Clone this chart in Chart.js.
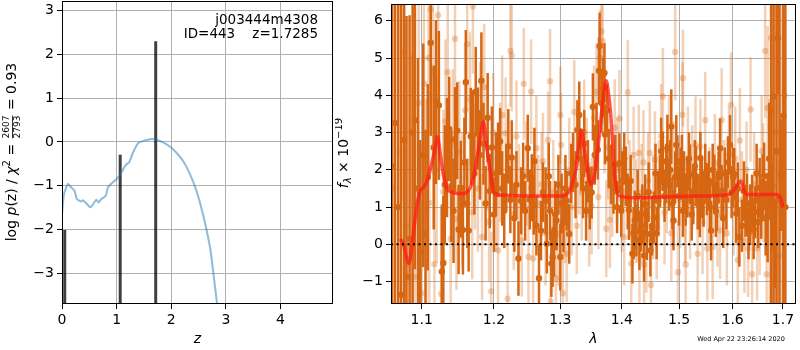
<!DOCTYPE html>
<html>
<head>
<meta charset="utf-8">
<script src="https://cdn.jsdelivr.net/npm/chart.js@4.4.0/dist/chart.umd.min.js"></script>
<style>
  html, body { margin: 0; padding: 0; background: #fff; }
  #wrap { position: relative; width: 800px; height: 350px; overflow: hidden; }
  #left { position: absolute; left: 0; top: 0; width: 345px; height: 350px; }
  #right { position: absolute; left: 335px; top: 0; width: 465px; height: 350px; }
</style>
</head>
<body>
<div id="wrap">
  <div id="left"><canvas id="pz" width="345" height="350"></canvas></div>
  <div id="right"><canvas id="spec" width="465" height="350"></canvas></div>
</div>
<script>
// ---- left panel: log p(z)
const pzZ   = [0, 0.037, 0.11, 0.17, 0.23, 0.27, 0.35, 0.38, 0.43, 0.52, 0.58, 0.63, 0.67, 0.72, 0.80, 0.84, 0.93, 1.0, 1.09, 1.17, 1.23, 1.30, 1.39, 1.48, 1.64, 1.73, 1.85, 1.98, 2.09, 2.22, 2.34, 2.46, 2.58, 2.71, 2.78, 2.84, 2.90];
const pzLog = [-1.65, -1.19, -0.96, -1.04, -1.11, -1.30, -1.36, -1.33, -1.38, -1.49, -1.40, -1.32, -1.38, -1.30, -1.23, -1.04, -0.92, -0.85, -0.69, -0.52, -0.46, -0.24, -0.03, 0.02, 0.07, 0.05, -0.01, -0.11, -0.24, -0.44, -0.73, -1.11, -1.65, -2.41, -3.09, -3.72, -4.3];
const barZ   = [0.05, 1.065, 1.715];
const barLog = [-2.01, -0.29, 2.30];
const zTicks   = [0, 1, 2, 3, 4];
const pzTicks  = [-3, -2, -1, 0, 1, 2, 3];

// ---- right panel: spectrum
const darkWave = [1.061,1.065,1.069,1.073,1.077,1.080,1.084,1.088,1.091,1.095,1.098,
  1.102,1.105,1.108,1.112,1.116,1.119,
  1.123,1.127,1.129,1.131,1.134,1.137,1.140,1.143,1.145,1.148,
  1.150,1.153,1.156,1.158,1.160,1.162,1.164,1.167,1.170,1.172,
  1.174,1.177,1.180,1.182,1.185,1.188,1.191,1.194,1.197,1.200,
  1.203,1.206,1.209,1.212,1.215,1.218,1.221,1.224,1.226,1.230,
  1.233,1.236,1.240,1.243,1.246,1.250,1.253,1.256,1.259,1.260,
  1.263,1.267,1.270,1.273,1.277,1.279,1.282,1.284,1.286,1.288,
  1.290,1.292,1.294,1.297,1.300,1.302,1.305,1.308,1.310,1.314,
  1.317,1.320,1.324,1.327,1.330,1.333,1.336,1.338,1.341,1.344,
  1.347,1.350,1.352,1.355,1.358,1.360,1.362,1.363,1.366,1.369,
  1.371,1.372,1.375,1.378,1.382,1.386,1.389,1.392,1.396,1.399,
  1.401,1.404,1.407,1.410,1.412,1.415,1.418,1.420,1.422,1.425,
  1.427,1.430,1.433,1.435,1.438,1.440,1.443,1.446,1.449,1.452,
  1.455,1.458,1.460,1.463,1.466,1.468,1.471,1.474,1.477,1.479,
  1.482,1.484,1.486,1.488,1.490,1.493,1.495,1.497,1.500,1.503,
  1.505,1.507,1.509,1.512,1.515,1.518,1.520,1.523,1.526,1.529,
  1.531,1.534,1.538,1.539,1.542,1.545,1.548,1.551,1.555,1.557,
  1.559,1.562,1.565,1.568,1.570,1.573,1.576,1.579,1.582,1.585,
  1.588,1.591,1.595,1.598,1.601,1.603,1.607,1.610,1.613,1.618,
  1.622,1.625,1.628,1.631,1.634,1.638,1.641,1.644,1.647,1.650,
  1.653,1.656,1.659,1.662,1.665,1.669,1.672,1.676,1.679,1.681,
  1.684,1.687,1.690,1.693,1.696,1.701,1.705];
const darkFlux = [2.1,3.26,1.0,-1.35,2.8,-0.87,0.15,3.0,3.33,1.5,-0.2,
  2.39,0.28,1.8,5.41,2.6,3.82,
  3.73,-0.73,-0.5,1.6,2.33,3.1,1.56,0.9,2.82,3.05,
  0.4,1.48,0.39,2.2,4.35,1.1,0.37,2.9,2.94,1.9,
  4.10,3.11,2.4,4.39,2.7,1.1,3.4,1.43,2.6,0.8,
  1.9,2.27,2.76,1.5,0.9,1.8,2.63,1.2,2.33,0.7,
  1.6,-0.38,1.17,1.83,0.9,2.58,1.2,1.52,1.06,2.23,
  0.5,-0.91,0.37,1.4,1.17,0.02,1.83,0.9,-0.51,-0.34,
  -0.07,0.8,0.64,1.6,-0.34,1.1,0.59,1.5,1.17,0.28,
  1.9,2.2,1.6,3.07,3.47,2.3,1.5,2.7,0.90,2.0,
  1.2,1.39,3.69,2.4,2.9,2.54,4.66,5.32,3.8,4.2,
  4.6,2.95,3.6,2.3,1.88,1.52,2.14,1.0,2.18,0.9,
  1.70,2.3,1.83,1.1,0.92,1.7,-0.25,0.3,0.64,0.37,
  1.3,0.11,0.5,0.81,-0.3,1.08,0.28,1.4,-0.16,0.5,
  0.72,1.9,0.3,1.17,1.70,2.5,2.23,1.3,1.9,2.58,
  1.6,2.0,3.16,1.1,0.64,1.8,2.67,2.23,1.3,1.9,
  2.14,0.9,1.70,1.2,1.52,2.3,1.88,0.8,1.34,2.1,
  1.83,1.1,0.99,2.32,1.5,1.17,1.9,1.48,1.70,1.0,
  0.37,2.0,1.61,0.9,1.17,1.8,2.58,1.43,0.7,1.9,
  1.2,2.2,2.67,1.4,1.8,1.88,0.83,1.5,0.2,0.50,
  1.43,0.9,1.10,0.3,0.81,1.17,0.4,0.86,1.9,0.6,
  1.52,0.95,1.52,1.83,0.7,0.72,2.3,3.59,1.0,3.97,
  0.03,2.5,5.53,1.2,1.86,3.45,1.0];
const darkErr = [9,10,9,8,8,7,6,5,4,3.5,3,
  3,2.8,2.5,2.5,2.2,2.2,
  2,1.8,1.8,1.6,1.6,1.4,1.5,1.4,1.4,1.3,
  1.2,1.3,1.2,1.2,1.4,1.2,1.1,1.3,1.2,1.1,
  1.2,1.1,1.2,1.3,1.1,1.0,1.2,1.0,1.1,1.0,
  1.1,1.0,0.9,1.0,1.0,0.9,1.0,0.9,1.0,0.9,
  0.9,1.0,0.9,0.9,0.8,0.9,0.8,0.9,0.8,0.9,
  0.8,0.9,0.8,0.8,0.9,0.8,0.9,0.8,0.9,0.8,
  0.8,0.9,0.8,0.8,0.9,0.8,0.8,0.9,0.8,0.8,
  0.8,0.8,0.9,0.8,0.9,0.8,0.8,0.9,0.8,0.8,
  0.8,0.7,0.9,0.8,0.9,0.8,0.9,0.9,0.8,0.8,
  0.8,0.8,0.7,0.8,0.8,0.7,0.8,0.7,0.8,0.7,
  0.8,0.7,0.8,0.7,0.8,0.7,0.8,0.7,0.8,0.7,
  0.7,0.8,0.7,0.8,0.7,0.8,0.7,0.8,0.7,0.8,
  0.7,0.8,0.7,0.8,0.7,0.9,0.8,0.7,0.8,0.9,
  0.7,0.8,1.0,0.7,0.8,0.7,0.8,0.7,0.8,0.7,
  0.8,0.7,0.8,0.7,0.8,0.7,0.8,0.7,0.8,0.7,
  0.8,0.7,0.8,0.7,0.8,0.7,0.8,0.7,0.8,0.7,
  0.8,0.7,0.8,0.7,0.8,0.7,0.8,0.7,0.8,0.7,
  0.8,0.7,0.8,0.7,0.8,0.7,0.8,0.7,0.8,0.7,
  0.8,0.7,0.8,0.7,0.8,0.7,0.8,0.7,0.8,0.7,
  0.8,0.8,0.9,0.9,1.0,1.2,1.5,7,1.2,7,
  1.2,7,1.5,7,1.5,8,8];

const lightWave = [1.063,1.071,1.076,1.079,1.086,1.091,1.096,1.100,
  1.103,1.106,1.109,1.110,1.112,1.115,1.117,1.120,1.122,1.126,
  1.129,1.132,1.135,1.139,1.142,1.145,1.147,1.151,1.155,1.159,
  1.162,1.166,1.169,1.170,1.173,1.177,1.180,1.183,1.186,1.190,
  1.193,1.196,1.199,1.203,1.206,1.209,1.212,1.217,1.220,1.224,
  1.226,1.229,1.233,1.237,1.241,1.244,1.248,1.251,1.255,1.258,
  1.263,1.266,1.271,1.273,1.277,1.281,1.284,1.285,1.289,1.293,
  1.297,1.300,1.301,1.304,1.307,1.310,1.314,1.318,1.322,1.326,
  1.330,1.334,1.338,1.342,1.346,1.350,1.354,1.358,1.361,1.364,
  1.366,1.368,1.371,1.374,1.377,1.380,1.384,1.388,1.392,1.396,
  1.400,1.404,1.410,1.413,1.416,1.420,1.424,1.429,1.430,1.434,
  1.437,1.438,1.442,1.445,1.448,1.450,1.454,1.457,1.460,1.464,
  1.468,1.471,1.474,1.478,1.482,1.486,1.490,1.493,1.498,1.502,
  1.506,1.507,1.511,1.512,1.516,1.520,1.524,1.530,1.534,1.539,
  1.543,1.548,1.552,1.556,1.562,1.566,1.571,1.576,1.579,1.584,
  1.589,1.593,1.597,1.602,1.605,1.610,1.614,1.618,1.623,1.627,
  1.630,1.635,1.638,1.642,1.648,1.653,1.657,1.660,1.664,1.667,
  1.669,1.673,1.676,1.680,1.686,1.692,1.698,1.703];
const lightFlux = [1.5,2.5,5.15,0.5,-0.9,-0.87,3.8,-1.31,
  4.32,0.9,5.0,1.11,6.3,4.66,-0.53,2.0,6.15,-1.33,
  1.41,3.3,4.62,0.15,2.7,5.52,0.68,2.49,1.2,3.6,
  5.37,3.89,0.86,6.38,2.1,1.5,3.2,0.2,4.22,2.6,
  0.6,-1.26,3.0,1.4,-0.16,2.2,3.47,2.98,-1.46,5.19,
  5.07,0.81,2.9,1.2,0.1,4.31,1.9,-0.34,4.10,-0.38,
  2.58,1.1,1.61,2.23,0.3,2.8,4.38,-1.53,1.4,-0.9,
  0.28,3.47,2.67,-1.31,0.9,-0.25,2.0,1.0,3.55,0.5,
  2.2,1.4,3.02,2.1,0.8,1.03,3.4,4.1,1.27,5.0,
  5.72,5.46,3.3,0.42,2.6,0.66,1.6,3.13,2.0,3.38,
  1.2,0.2,4.08,1.5,-0.51,2.4,0.9,2.45,-0.42,1.4,
  2.20,-0.54,0.1,1.7,2.45,-1.09,1.0,2.27,0.46,1.5,
  2.9,3.97,0.86,1.6,2.6,0.3,1.9,5.16,-0.75,1.2,
  3.48,4.46,0.9,-0.54,2.3,0.90,1.8,2.67,-0.25,2.61,
  0.6,3.33,-0.11,1.3,-0.07,2.2,0.8,0.37,3.33,1.5,
  0.3,2.4,3.75,1.0,2.3,-0.42,2.79,1.2,0.1,2.0,
  -0.11,3.62,-0.80,1.6,-0.11,0.68,2.5,1.65,5.19,-0.80,
  3.66,0.9,5.54,1.56,3.0,-0.3,2.2,4.0];
const lightErr = [10,9,4,3,6,2,3,2.5,
  3,3,3,3,3,2.8,2.5,2.5,2.5,2.3,
  2.2,2.2,2.0,2.0,2.0,2.0,1.9,1.9,1.8,1.8,
  1.8,1.8,1.8,1.8,1.7,1.7,1.7,1.7,1.7,1.7,
  1.6,1.6,1.6,1.6,1.6,1.6,1.6,1.5,1.5,1.5,
  1.5,1.5,1.5,1.5,1.5,1.5,1.4,1.4,1.4,1.4,
  1.4,1.3,1.4,1.3,1.4,1.3,1.4,1.3,1.4,1.3,
  1.4,1.3,1.4,1.3,1.4,1.3,1.4,1.3,1.4,1.3,
  1.4,1.3,1.4,1.3,1.4,1.3,1.4,1.3,1.4,1.3,
  1.4,1.3,1.4,1.3,1.4,1.3,1.4,1.3,1.4,1.3,
  1.4,1.3,1.4,1.3,1.4,1.3,1.4,1.3,1.4,1.3,
  1.4,1.3,1.4,1.3,1.4,1.3,1.4,1.3,1.4,1.3,
  1.4,1.3,1.4,1.3,1.4,1.3,1.4,1.3,1.4,1.3,
  1.4,1.3,1.4,1.3,1.4,1.3,1.4,1.3,1.4,1.3,
  1.4,1.3,1.4,1.3,1.4,1.3,1.4,1.3,1.4,1.3,
  1.4,1.3,1.4,1.3,1.4,1.3,1.4,1.3,1.4,1.3,
  1.3,1.4,1.4,1.4,1.4,1.5,1.5,1.6,1.8,2,
  2.2,3,4,5,6,7,8,9];

const modelWave = [1.072,1.076,1.083,1.088,1.091,1.095,1.098,1.103,1.107,1.113,
  1.117,1.121,1.125,1.129,1.134,1.140,1.156,1.166,1.171,1.175,
  1.180,1.185,1.189,1.194,1.200,1.213,1.255,1.304,1.314,1.320,
  1.325,1.330,1.333,1.337,1.341,1.349,1.354,1.359,1.363,1.367,
  1.371,1.374,1.378,1.381,1.385,1.388,1.396,1.422,1.482,1.543,
  1.594,1.606,1.616,1.622,1.627,1.685,1.695,1.700];
const modelFlux = [0.15,0.0,-0.51,0.1,0.64,1.2,1.43,1.55,1.70,2.14,
  2.5,2.89,2.4,1.88,1.5,1.41,1.36,1.52,1.8,2.23,
  2.8,3.29,2.7,2.05,1.39,1.32,1.30,1.30,1.43,1.7,
  2.05,2.7,3.07,2.7,2.23,1.61,1.8,2.41,3.0,3.64,
  4.2,4.39,4.0,3.55,2.6,1.88,1.30,1.25,1.28,1.30,
  1.34,1.52,1.70,1.45,1.34,1.34,1.25,0.99];
const lamTicks  = [1.1, 1.2, 1.3, 1.4, 1.5, 1.6, 1.7];
const fluxTicks = [-1, 0, 1, 2, 3, 4, 5, 6];

const LAM_MIN = 1.06, LAM_MAX = 1.727;
const ORANGE = 'rgb(214,102,18)';
const ORANGE_LIGHT = 'rgba(214,102,18,0.3)';

Chart.defaults.font.family = "'DejaVu Sans', sans-serif";
Chart.defaults.font.size = 14;
Chart.defaults.color = '#000';

const minus = v => String(v).replace('-', '\u2212');
const pts = (xs, ys) => xs.map((x, i) => ({x: x, y: ys[i]}));

function axis(type, min, max, ticks, fmt, fit) {
  return {
    type: type, min: min, max: max, bounds: 'data',
    afterBuildTicks: s => { s.ticks = ticks.map(v => ({value: v})); },
    afterFit: s => {
      fit(s);
      // no extra room for half-labels at the ends
      s.paddingTop = 0; s.paddingBottom = 0; s.paddingLeft = 0; s.paddingRight = 0;
    },
    ticks: { callback: fmt, color: '#000', autoSkip: false, maxRotation: 0, padding: 3 },
    grid: { color: '#b0b0b0', lineWidth: 1, tickColor: '#000', tickLength: 5, tickWidth: 1 },
    border: { display: false }
  };
}

// black box round the plot area
const frame = {
  id: 'frame',
  afterDraw(chart) {
    const a = chart.chartArea, ctx = chart.ctx;
    ctx.save();
    ctx.strokeStyle = '#000';
    ctx.lineWidth = 1;
    ctx.strokeRect(Math.round(a.left) + 0.5, Math.round(a.top) + 0.5,
      Math.round(a.right - a.left) - 1, Math.round(a.bottom - a.top) - 1);
    ctx.restore();
  }
};

// rotated label made of pieces (normal / italic / sub / sup / fraction)
function rotLabel(ctx, pieces, cx, cy) {
  let total = 0;
  pieces.forEach(p => {
    ctx.font = p.font;
    p.w = p.frac ? Math.max(ctx.measureText(p.frac[0]).width, ctx.measureText(p.frac[1]).width) + 2
                 : ctx.measureText(p.t).width;
    total += p.w;
  });
  ctx.save();
  ctx.translate(cx, cy);
  ctx.rotate(-Math.PI / 2);
  ctx.fillStyle = '#000';
  ctx.textBaseline = 'middle';
  let pos = -total / 2;
  pieces.forEach(p => {
    ctx.font = p.font;
    if (p.frac) {
      ctx.textAlign = 'center';
      ctx.fillText(p.frac[0], pos + p.w / 2, -5);
      ctx.fillText(p.frac[1], pos + p.w / 2, 5.5);
      ctx.fillRect(pos + 1, 0, p.w - 2, 0.8);
      ctx.textAlign = 'left';
    } else {
      ctx.textAlign = 'left';
      ctx.fillText(p.t, pos, p.dy || 0);
    }
    pos += p.w;
  });
  ctx.restore();
}

const F = "'DejaVu Sans', sans-serif";

const pzText = {
  id: 'pzText',
  afterDraw(chart) {
    const ctx = chart.ctx;
    rotLabel(ctx, [
      {t: 'log ', font: '14px ' + F},
      {t: 'p', font: 'italic 14px ' + F},
      {t: '(z) / ', font: '14px ' + F},
      {t: '\u03C7', font: 'italic 14px ' + F},
      {t: '2', font: '10px ' + F, dy: -5},
      {t: ' = ', font: '14px ' + F},
      {frac: ['2607', '2793'], font: '9px ' + F},
      {t: ' = 0.93', font: '14px ' + F}
    ], 12, 152);
    ctx.save();
    ctx.fillStyle = '#000';
    ctx.font = '13.5px ' + F;
    ctx.textAlign = 'right';
    ctx.textBaseline = 'middle';
    ctx.fillText('j003444m4308', 318, 20);
    ctx.fillText('ID=443    z=1.7285', 318, 34);
    ctx.restore();
  }
};

const specText = {
  id: 'specText',
  afterDraw(chart) {
    const ctx = chart.ctx;
    rotLabel(ctx, [
      {t: 'f', font: 'italic 14px ' + F},
      {t: '\u03BB', font: 'italic 10px ' + F, dy: 4},
      {t: ' \u00D7 10', font: '14px ' + F},
      {t: '\u221219', font: '10px ' + F, dy: -5}
    ], 9, 153);
    ctx.save();
    ctx.fillStyle = '#000';
    ctx.font = '6.5px ' + F;
    ctx.textAlign = 'center';
    ctx.textBaseline = 'middle';
    ctx.fillText('Wed Apr 22 23:26:14 2020', 406, 339);
    ctx.restore();
  }
};

// vertical error bars drawn just before their own dataset
const errorBars = {
  id: 'errorBars',
  beforeDatasetDraw(chart, args) {
    const ds = chart.data.datasets[args.index];
    if (!ds.errors) return;
    const ctx = chart.ctx, a = chart.chartArea;
    const x = chart.scales.x, y = chart.scales.y;
    ctx.save();
    ctx.beginPath();
    ctx.rect(a.left, a.top, a.right - a.left, a.bottom - a.top);
    ctx.clip();
    ctx.strokeStyle = ds.errorColor;
    ctx.lineWidth = 2.5;
    ds.data.forEach((p, i) => {
      const px = x.getPixelForValue(p.x);
      ctx.beginPath();
      ctx.moveTo(px, y.getPixelForValue(p.y - ds.errors[i]));
      ctx.lineTo(px, y.getPixelForValue(p.y + ds.errors[i]));
      ctx.stroke();
    });
    ctx.restore();
  }
};

// ---------- left chart
const barSets = barZ.map((z, i) => ({
  data: [{x: z, y: -4}, {x: z, y: barLog[i]}],
  borderColor: 'rgba(0,0,0,0.75)',
  borderWidth: 3,
  borderCapStyle: 'butt',
  pointRadius: 0
}));

new Chart(document.getElementById('pz'), {
  type: 'line',
  data: {
    datasets: [{
      data: pts(pzZ, pzLog),
      borderColor: 'rgba(31,119,180,0.5)',
      borderWidth: 2,
      pointRadius: 0,
      tension: 0.2
    }].concat(barSets)
  },
  options: {
    responsive: false,
    animation: false,
    layout: { padding: { top: 1, right: 12, left: 0, bottom: 0 } },
    plugins: { legend: { display: false }, tooltip: { enabled: false } },
    scales: {
      x: Object.assign(axis('linear', 0, 4.96, zTicks, v => minus(v), s => { s.height = 46; }), {
        title: { display: true, text: 'z', font: { size: 14, style: 'italic' }, padding: { top: 2, bottom: 2 } }
      }),
      y: axis('linear', -3.7, 3.22, pzTicks, v => minus(v), s => { s.width = 62; })
    }
  },
  plugins: [frame, pzText]
});

// ---------- right chart
new Chart(document.getElementById('spec'), {
  type: 'scatter',
  data: {
    datasets: [{
      data: [{x: LAM_MIN, y: 0}, {x: LAM_MAX, y: 0}],
      showLine: true,
      borderColor: '#000',
      borderWidth: 2,
      borderDash: [2, 3.5],
      pointRadius: 0,
      order: 0
    }, {
      data: pts(modelWave, modelFlux),
      showLine: true,
      borderColor: 'rgba(255,30,20,0.75)',
      borderWidth: 3.5,
      pointRadius: 0,
      cubicInterpolationMode: 'monotone',
      order: 1
    }, {
      data: pts(darkWave, darkFlux),
      errors: darkErr,
      errorColor: ORANGE,
      backgroundColor: ORANGE,
      borderWidth: 0,
      pointRadius: 3.2,
      order: 2
    }, {
      data: pts(lightWave, lightFlux),
      errors: lightErr,
      errorColor: ORANGE_LIGHT,
      backgroundColor: ORANGE_LIGHT,
      borderWidth: 0,
      pointRadius: 3.2,
      order: 3
    }]
  },
  options: {
    responsive: false,
    animation: false,
    layout: { padding: { top: 1, right: 1, left: 0, bottom: 0 } },
    plugins: { legend: { display: false }, tooltip: { enabled: false } },
    scales: {
      x: Object.assign(axis('logarithmic', LAM_MIN, LAM_MAX, lamTicks, v => v.toFixed(1), s => { s.height = 46; }), {
        title: { display: true, text: '\u03BB', font: { size: 14, style: 'italic' }, padding: { top: 2, bottom: 2 } }
      }),
      y: axis('linear', -1.6, 6.45, fluxTicks, v => minus(v), s => { s.width = 56; })
    }
  },
  plugins: [errorBars, frame, specText]
});
</script>
</body>
</html>
